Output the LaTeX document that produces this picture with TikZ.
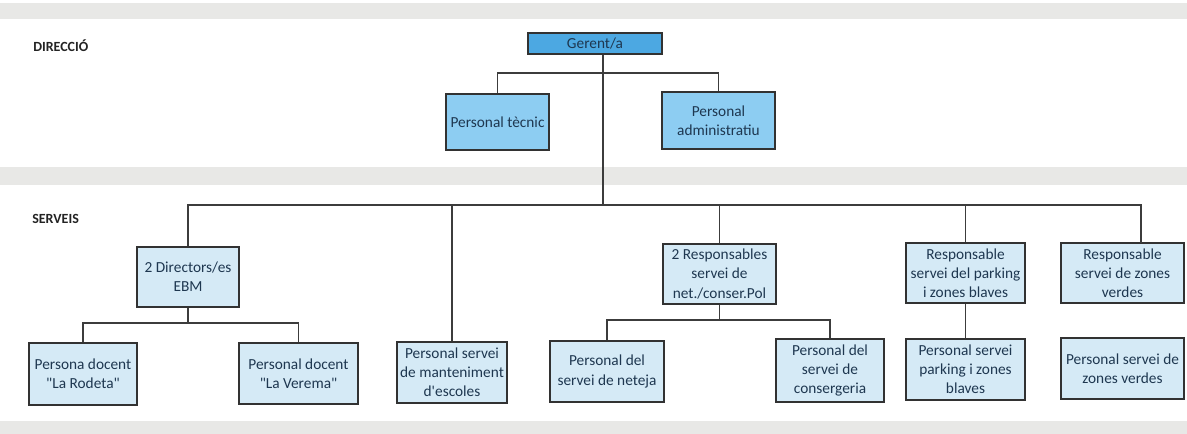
\documentclass[tikz,border=0pt]{standalone}
\usepackage{fontspec}
\setmainfont{Carlito}
\usepackage{tikz}

\definecolor{gerentblue}{RGB}{76,168,226}
\definecolor{dirblue}{RGB}{141,205,242}
\definecolor{srvblue}{RGB}{213,234,246}
\definecolor{boxtext}{RGB}{30,55,80}
\definecolor{bandgray}{RGB}{232,232,230}

\begin{document}
\begin{tikzpicture}[x=0.75pt,y=0.75pt,yscale=-1,xscale=1,
  sz/.style 2 args={minimum width=#1*0.75pt,minimum height=#2*0.75pt},
  orgbox/.style={draw={rgb,255:red,50;green,50;blue,50},line width=1pt,inner sep=0pt,align=center,
    text=boxtext,font=\fontsize{11.5}{14.3}\selectfont},
  gerentbox/.style={orgbox,fill=gerentblue},
  dirbox/.style={orgbox,fill=dirblue},
  srvbox/.style={orgbox,fill=srvblue},
  lbl/.style={anchor=west,inner sep=0pt,font=\fontsize{10.5}{12}\bfseries\selectfont,text={rgb,255:red,35;green,35;blue,35}},
  wire/.style={draw={rgb,255:red,60;green,60;blue,60},line width=0.8pt}]
\useasboundingbox (0,0) rectangle (1187,434);

%Shape: Rectangle [bands of the page]
\fill [bandgray] (0,3) rectangle (1187,19);
\fill [bandgray] (0,167) rectangle (1187,185);
\fill [bandgray] (0,421) rectangle (1187,434);

% Text Node
\node [lbl] (ldir) at (33,46) {DIRECCIÓ};
% Text Node
\node [lbl] (lsrv) at (32,219) {SERVEIS};

% Direcció
\node [gerentbox,sz={134}{21}] (gerent) at (595,43.5) {Gerent/a};
\node [dirbox,sz={103}{56}] (tecnic) at (497.5,122) {Personal tècnic};
\node [dirbox,sz={113}{57}] (admin) at (718.5,120.5) {Personal\\administratiu};

% Serveis
\node [srvbox,sz={102}{60}] (ebm) at (188,277) {2 Directors/es\\EBM};
\node [srvbox,sz={108}{62}] (rodeta) at (83,374) {Persona docent\\\textquotedbl La Rodeta\textquotedbl};
\node [srvbox,sz={119}{61}] (verema) at (298.5,373.5) {Personal docent\\\textquotedbl La Verema\textquotedbl};
\node [srvbox,sz={110}{61}] (mant) at (452,372.5) {Personal servei\\de manteniment\\d\textquotesingle escoles};
\node [srvbox,sz={113}{60}] (resp) at (719.5,274) {2 Responsables\\servei de\\net./conser.Pol};
\node [srvbox,sz={114}{61}] (neteja) at (607,371.5) {Personal del\\servei de neteja};
\node [srvbox,sz={108}{63}] (conserg) at (830,370.5) {Personal del\\servei de\\consergeria};
\node [srvbox,sz={119}{60}] (park) at (965.5,273) {Responsable\\servei del parking\\i zones blaves};
\node [srvbox,sz={119}{61}] (ppark) at (965.5,369.5) {Personal servei\\parking i zones\\blaves};
\node [srvbox,sz={123}{60}] (zverd) at (1122.5,273) {Responsable\\servei de zones\\verdes};
\node [srvbox,sz={123}{61}] (pzverd) at (1122.5,368.5) {Personal servei de\\zones verdes};

% junctions
\coordinate (dirbus) at (603,73);
\coordinate (srvbus) at (603,205);
\coordinate (ebmbus) at (188,323);
\coordinate (respbus) at (721,320);
\coordinate (zverdtop) at (1141,243);

% connectors
\draw [wire] (gerent.south -| dirbus) -- (srvbus);
\draw [wire] (tecnic.north) |- (dirbus) -| (admin.north);
\draw [wire] (ebm.north) |- (srvbus) -| (zverdtop);
\draw [wire] (mant.north) -- (mant.north |- srvbus);
\draw [wire] (resp.north) -- (resp.north |- srvbus);
\draw [wire] (park.north) -- (park.north |- srvbus);
\draw [wire] (ebm.south) -- (ebmbus);
\draw [wire] (rodeta.north) |- (ebmbus) -| (verema.north);
\draw [wire] (resp.south) -- (resp.south |- respbus);
\draw [wire] (neteja.north) |- (respbus) -| (conserg.north);
\draw [wire] (park.south) -- (ppark.north);

\end{tikzpicture}
\end{document}
